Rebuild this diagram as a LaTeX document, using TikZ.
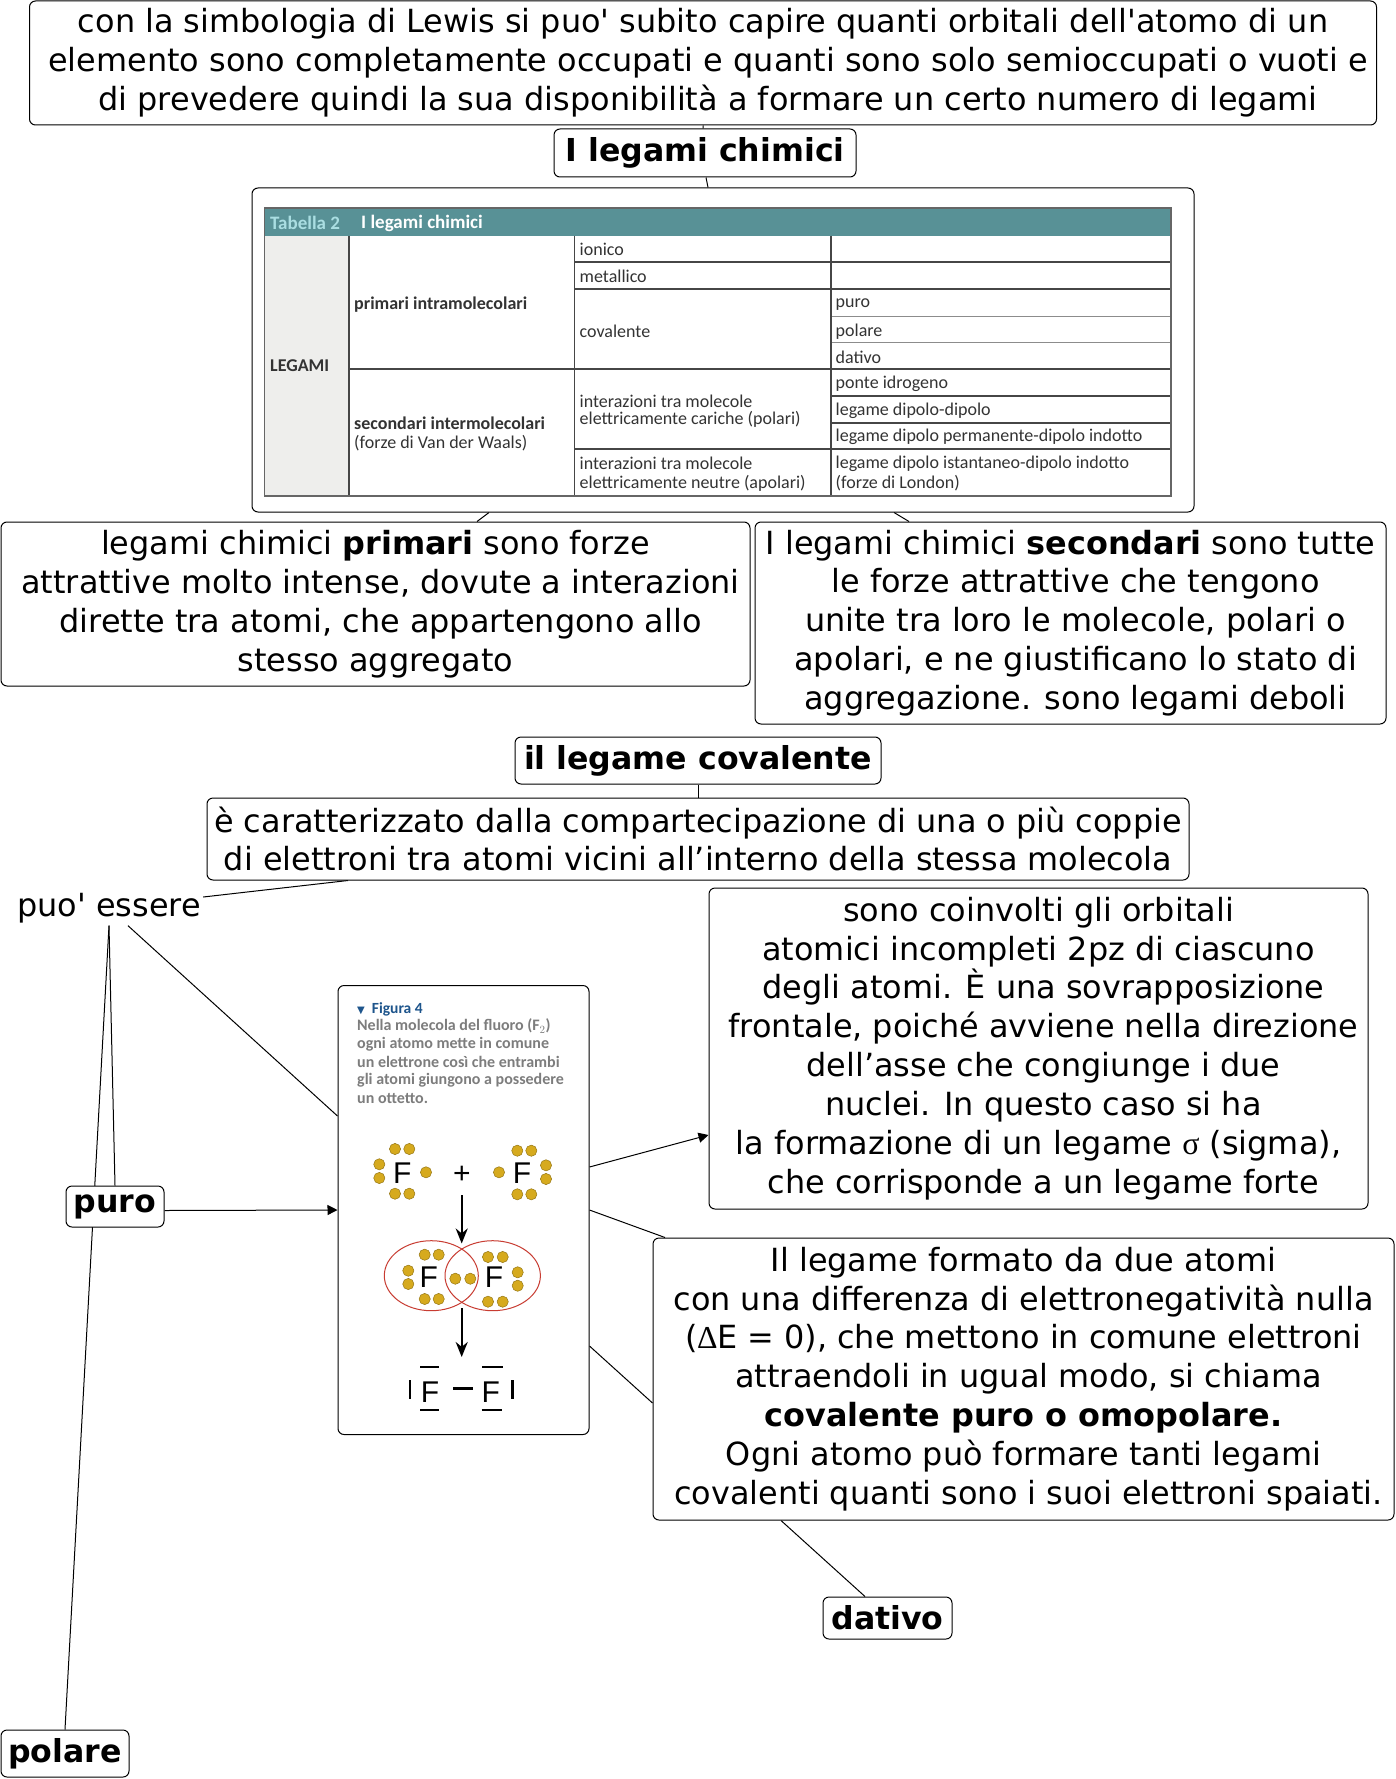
\documentclass[tikz,border=0pt]{standalone}
\usepackage{fontspec}
\usepackage{tikz}
\usetikzlibrary{arrows.meta, positioning, backgrounds}
\newfontfamily\bodyfont{DejaVu Sans}
\newfontfamily\symfont{Liberation Serif}
\newfontfamily\tabfont{Carlito}
\newfontfamily\atomfont{Liberation Sans}
\newcommand{\leadgap}{\hspace*{10pt}}
\definecolor{headcolor}{RGB}{88,145,150}
\definecolor{headlight}{RGB}{170,222,226}
\definecolor{legcolor}{RGB}{238,238,236}
\definecolor{rulecolor}{RGB}{70,70,70}
\definecolor{figblue}{RGB}{30,85,140}
\definecolor{figgray}{RGB}{125,125,125}
\definecolor{dotcolor}{RGB}{214,170,30}
\definecolor{ringcolor}{RGB}{200,60,50}

\begin{document}
\begin{tikzpicture}[
    x=1pt, y=-1pt,
    >={Triangle[length=10pt, width=10pt]},
    box/.style={draw, rounded corners=6pt, fill=white, line width=1pt, inner sep=0pt, align=center,
        font=\bodyfont\fontsize{31.9}{38.9}\selectfont},
    title/.style={box, font=\bodyfont\bfseries\fontsize{31.6}{38.9}\selectfont},
    link/.style={line width=1pt},
    cell/.style={anchor=west, inner sep=0pt, text=black!80, font=\tabfont\fontsize{18}{20}\selectfont},
    rulethin/.style={rulecolor, line width=1.3pt},
    dot/.style={fill=dotcolor, draw=dotcolor!70!black, line width=0.5pt},
    atom/.style={inner sep=0pt, font=\atomfont\fontsize{30}{30}\selectfont},
    bar/.style={line width=2.8pt},
    figtext/.style={anchor=west, inner sep=0pt, text=figgray, font=\tabfont\bfseries\fontsize{16}{18}\selectfont},
]
    \useasboundingbox (0,0) rectangle (1396,1779);

    % top of the map
    \node[box, minimum width=1347pt, minimum height=124pt] (lewis) at (703,63)
        {con la simbologia di Lewis si puo' subito capire quanti orbitali dell'atomo di un\\
         \leadgap elemento sono completamente occupati e quanti sono solo semioccupati o vuoti e\\
         \leadgap di prevedere quindi la sua disponibilità a formare un certo numero di legami};
    \node[title, minimum width=302pt, minimum height=48pt] (legami) at (705,153) {I legami chimici};
    \node[box, minimum width=942pt, minimum height=324pt] (frame) at (723,350) {};

    % table
    \fill[legcolor] (264.5,236) rectangle (349,496);
    \fill[headcolor] (264.5,208) rectangle (1171,236);
    \foreach \y in {262,289,369,449}
        \draw[rulethin] (574.5,\y) -- (1171,\y);
    \foreach \y in {316,342}
        \draw[rulethin, line width=1pt, black!45] (831,\y) -- (1171,\y);
    \foreach \y in {396,423}
        \draw[rulethin] (831,\y) -- (1171,\y);
    \draw[rulethin] (349,369) -- (574.5,369);
    \foreach \x in {349,574.5,831}
        \draw[rulethin] (\x,236) -- (\x,496);
    \draw[rulethin, black!60] (264.5,208) rectangle (1171,496);

    \node[cell, text=headlight, font=\tabfont\bfseries\fontsize{19}{20}\selectfont] (thead) at (270,223) {Tabella 2};
    \node[cell, text=white, font=\tabfont\bfseries\fontsize{19}{20}\selectfont] (tname) at (361,223) {I legami chimici};
    \node[cell, font=\tabfont\bfseries\fontsize{18}{20}\selectfont] (tleg) at (270,366) {LEGAMI};
    \node[cell, font=\tabfont\bfseries\fontsize{18}{20}\selectfont] (tprim) at (354,305) {primari intramolecolari};
    \node[cell, font=\tabfont\bfseries\fontsize{18}{20}\selectfont] (tsec) at (354,423) {secondari intermolecolari};
    \node[cell] (tforze) at (354,443) {(forze di Van der Waals)};
    \foreach \n/\y/\t in {a/249/ionico, b/276/metallico, c/331/covalente,
        d/401/interazioni tra molecole, e/419/elettricamente cariche (polari),
        f/463/interazioni tra molecole, g/483/elettricamente neutre (apolari)}
        \node[cell] (t\n) at (579.5,\y) {\t};
    \foreach \n/\y/\t in {h/305/puro, i/332/polare, j/357/dativo, k/384/ponte idrogeno,
        l/411/legame dipolo-dipolo, m/437/legame dipolo permanente-dipolo indotto,
        n/464/legame dipolo istantaneo-dipolo indotto, o/483/(forze di London)}
        \node[cell] (t\n) at (835.5,\y) {\t};

    % primari and secondari
    \node[box, minimum width=749pt, minimum height=164pt] (primari) at (375.5,604)
        {legami chimici \textbf{primari} sono forze\\
         \leadgap attrattive molto intense, dovute a interazioni\\
         \leadgap dirette tra atomi, che appartengono allo\\
         stesso aggregato};
    \node[box, minimum width=631pt, minimum height=202pt] (secondari) at (1070.5,623)
        {I legami chimici \textbf{secondari} sono tutte\\
         \leadgap le forze attrattive che tengono\\
         \leadgap unite tra loro le molecole, polari o\\
         \leadgap apolari, e ne giustificano lo stato di\\
         \leadgap aggregazione. sono legami deboli};

    % covalente
    \node[title, minimum width=366pt, minimum height=47pt] (covalente) at (698,760.5) {il legame covalente};
    \node[box, minimum width=982pt, minimum height=82pt] (descr) at (698,839)
        {è caratterizzato dalla compartecipazione di una o più coppie\\
         di elettroni tra atomi vicini all’interno della stessa molecola};
    \node[inner sep=0pt, minimum width=188pt, text height=24pt, text depth=11pt,
        font=\bodyfont\fontsize{31.9}{38.9}\selectfont] (essere) at (109,910) {puo' essere};
    \node[title, minimum width=98pt, minimum height=41pt] (puro) at (115,1206.5) {puro};
    \node[title, minimum width=128pt, minimum height=47pt] (polare) at (65,1753.5) {polare};
    \node[title, minimum width=129pt, minimum height=42pt] (dativo) at (887.5,1618) {dativo};

    % figure
    \node[box, minimum width=251pt, minimum height=449pt] (fig) at (463.5,1210) {};
    \node[figtext, text=figblue, font=\tabfont\bfseries\fontsize{15.5}{18}\selectfont] (figtitle) at (357,1009)
        {{\bodyfont\fontsize{10}{10}\selectfont ▼}\ \ Figura 4};
    \foreach \n/\y/\t in {a/1026/Nella molecola del fluoro (F$_2$), b/1044/ogni atomo mette in comune,
        c/1062/un elettrone così che entrambi, d/1080/gli atomi giungono a possedere, e/1098/un ottetto.}
        \node[figtext] (fig\n) at (357,\y) {\t};
    \foreach \x/\y in {395/1149, 409.3/1149, 379.3/1164.3, 379.3/1178, 395/1193.7, 409.3/1193.7, 426/1172.3,
        517.3/1150.7, 531.3/1150.7, 499/1172.3, 546/1165.3, 546/1179, 517.3/1194.3, 531.3/1194.3,
        424.7/1254.7, 438.7/1254.7, 408.3/1270.7, 408.3/1284, 424.7/1299, 438.7/1299, 455.3/1278.7, 470.3/1278.7,
        488/1257, 502.7/1257, 517.7/1272.3, 517.7/1285.7, 488/1301.7, 502.7/1301.7}
        \draw[dot] (\x,\y) circle (5.6pt);
    \node[atom] (fa) at (402.3,1173) {F};
    \node[atom] (fb) at (522,1173) {F};
    \node[atom] (plus) at (462,1175) {+};
    \draw[ringcolor, line width=1pt] (431.3,1275.7) ellipse (47pt and 35pt);
    \draw[ringcolor, line width=1pt] (492.7,1275.7) ellipse (47.7pt and 35pt);
    \node[atom] (fc) at (428.7,1276.7) {F};
    \node[atom] (fd) at (494,1276.7) {F};
    \node[atom] (fe) at (430,1391.7) {F};
    \node[atom] (ff) at (490.7,1391.7) {F};
    \coordinate (ra) at (461.7,1195);
    \coordinate (rb) at (461.7,1243.5);
    \coordinate (rc) at (461.7,1308);
    \coordinate (rd) at (461.7,1357);
    \draw[->, line width=2.2pt, >={Stealth[length=15pt, width=12pt]}] (ra) -- (rb);
    \draw[->, line width=2.2pt, >={Stealth[length=15pt, width=12pt]}] (rc) -- (rd);
    \draw[bar] (420,1367) -- (439.3,1367);
    \draw[bar] (482.3,1367) -- (502.7,1367);
    \draw[bar] (420,1410) -- (439.3,1410);
    \draw[bar] (481.7,1410) -- (502,1410);
    \draw[bar] (410,1380) -- (410,1399.3);
    \draw[bar] (512.7,1380) -- (512.7,1399.3);
    \draw[bar] (453.3,1388.7) -- (472.7,1388.7);

    % right hand boxes
    \node[box, minimum width=659pt, minimum height=321pt] (sono) at (1038.5,1048.5)
        {sono coinvolti gli orbitali\\
         atomici incompleti 2pz di ciascuno\\
         \leadgap degli atomi. È una sovrapposizione\\
         \leadgap frontale, poiché avviene nella direzione\\
         \leadgap dell’asse che congiunge i due\\
         \leadgap nuclei. In questo caso si ha\\
         la formazione di un legame {\symfont σ} (sigma),\\
         \leadgap che corrisponde a un legame forte};
    \node[box, minimum width=741pt, minimum height=282pt] (omopolare) at (1023.5,1379)
        {Il legame formato da due atomi\\
         con una differenza di elettronegatività nulla\\
         ({\symfont ∆}E = 0), che mettono in comune elettroni\\
         \leadgap attraendoli in ugual modo, si chiama\\
         \textbf{covalente puro o omopolare.}\\
         Ogni atomo può formare tanti legami\\
         \leadgap covalenti quanti sono i suoi elettroni spaiati.};

    % connectors
    \begin{scope}[on background layer]
        \draw[link] (lewis.south) -- (legami);
        \draw[link] ([xshift=1pt]legami.south) -- ([xshift=-15pt]frame.north);
        \draw[link] ([xshift=-234pt]frame.south) -- ([xshift=101.5pt]primari.north);
        \draw[link] ([xshift=171pt]frame.south) -- ([xshift=-161.5pt]secondari.north);
        \draw[link] (covalente) -- (descr);
        \draw[link] ([yshift=13pt]essere.east) -- ([xshift=-350pt]descr.south);
        \draw[link] ([yshift=2pt]essere.south) -- (polare.north);
        \draw[link] ([yshift=2pt]essere.south) -- (puro.north);
        \draw[link] ([xshift=19pt, yshift=2pt]essere.south) -- ([yshift=94pt]fig.west);
        \draw[link, ->] ([yshift=-4pt]puro.east) -- (fig.west);
        \draw[link, ->] ([yshift=43pt]fig.east) -- ([yshift=-86.5pt]sono.west);
        \draw[link] (fig.east) -- ([xshift=-358.5pt]omopolare.north);
        \draw[link] ([yshift=-136pt]fig.east) -- ([yshift=-24pt]omopolare.west);
        \draw[link] ([xshift=-242.5pt]omopolare.south) -- ([xshift=-22.5pt]dativo.north);
    \end{scope}
\end{tikzpicture}
\end{document}
